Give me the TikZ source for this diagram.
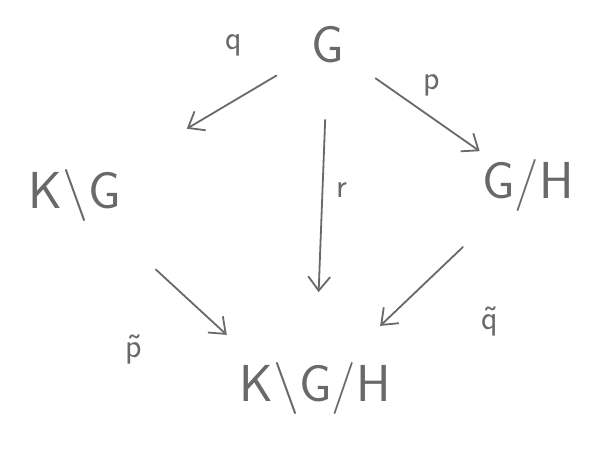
\documentclass[tikz,border=0pt]{standalone}
\usetikzlibrary{arrows.meta}
\definecolor{pencil}{RGB}{105,105,105}
\begin{document}
\begin{tikzpicture}[x=1pt,y=-1pt,
  obj/.style={text=pencil,font=\sffamily\fontsize{52}{60}\selectfont,inner sep=2pt},
  lbl/.style={text=pencil,font=\sffamily\fontsize{34}{40}\selectfont,inner sep=1pt},
  arr/.style={draw=pencil,line width=1.8pt,line cap=round,
    -{Straight Barb[length=14pt,width=22pt,line width=1.8pt]}}]
\useasboundingbox[fill=white] (0,0) rectangle (596,450);
% objects
\node[obj] (G)   at (328,45)  {G};
\node[obj] (KG)  at (75,195)  {K\textbackslash G};
\node[obj] (GH)  at (528,185) {G/H};
\node[obj] (KGH) at (315,388) {K\textbackslash G/H};
% maps between them
\draw[arr, shorten <=60pt, shorten >=130pt] (G.center) -- (KG.center);
\draw[arr, shorten <=58pt, shorten >=59pt]  (G.center) -- (GH.center);
\draw[arr, shorten <=75pt, shorten >=96pt]  (G.center) -- (KGH.center);
\draw[arr, shorten <=110pt, shorten >=120pt] (KG.center) -- (KGH.south);
\draw[arr, shorten <=90pt, shorten >=90pt]  (GH.center) -- (KGH.center);
% map names
\node[lbl] (lq)  at (234,45)  {q};
\node[lbl] (lp)  at (432,85)  {p};
\node[lbl] (lr)  at (342,190) {r};
\node[lbl] (lpt) at (134,350) {\~{p}};
\node[lbl] (lqt) at (490,322) {\~{q}};
\end{tikzpicture}
\end{document}
